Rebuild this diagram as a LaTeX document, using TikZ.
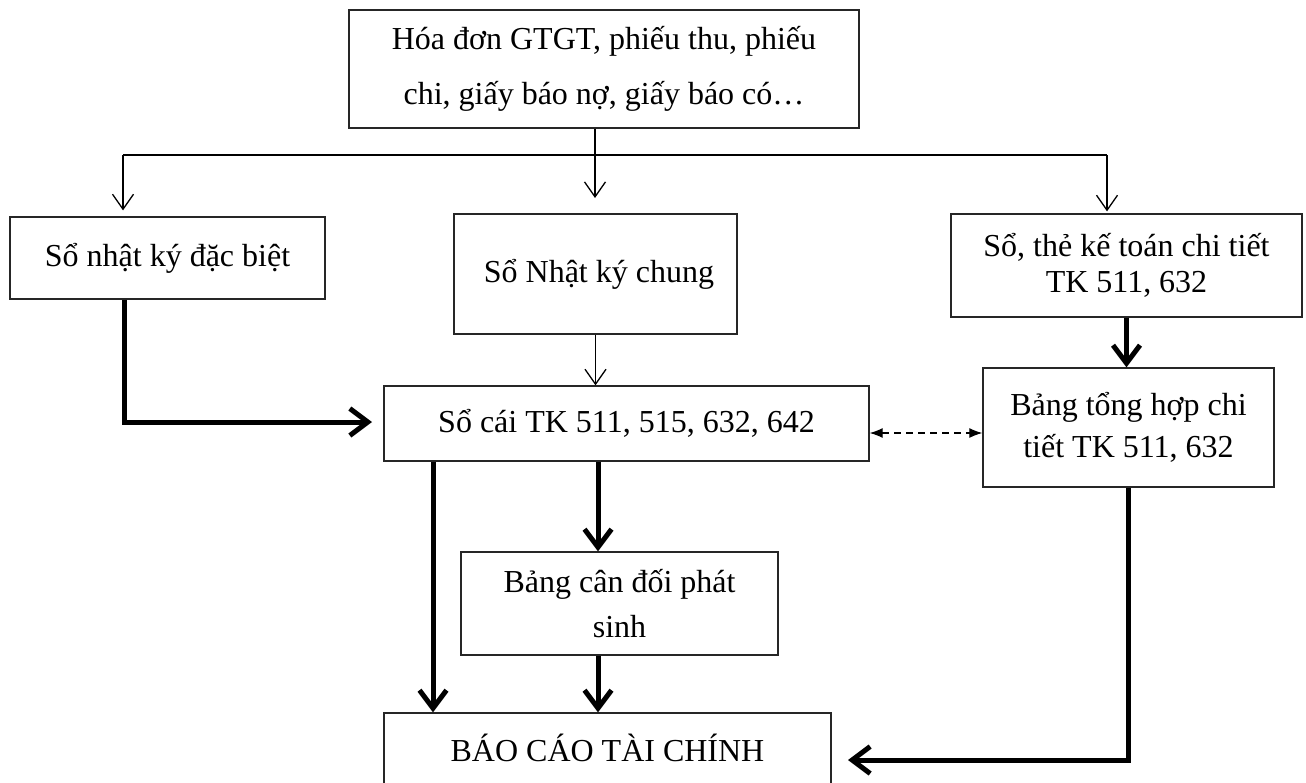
\documentclass[tikz,border=0pt]{standalone}
\usepackage{fontspec}
\setmainfont{Liberation Serif}
\usetikzlibrary{arrows.meta,calc}

\begin{document}
\begin{tikzpicture}[x=1pt,y=-1pt,
  box/.style={draw=black!85, line width=1.3pt, rectangle, inner sep=0pt,
              align=center, font=\fontsize{32}{36}\selectfont},
  thinarrow/.style={line width=1.3pt, -{Straight Barb[length=15pt,width=21pt]}},
  thinline/.style={line width=1.3pt},
  heavyarrow/.style={line width=5pt, -{Straight Barb[length=18pt,width=27pt]}},
  linkarrow/.style={line width=1.2pt, dash pattern=on 7pt off 5pt,
              {Latex[length=13pt,width=10pt]}-{Latex[length=13pt,width=10pt]}}]

\useasboundingbox (0,0) rectangle (1306,782);
\clip (0,0) rectangle (1306,782);

% source documents
\node[box, minimum width=510pt, minimum height=118pt,
      font=\fontsize{32}{55}\selectfont] (src) at (604,69)
  {Hóa đơn GTGT, phiếu thu, phiếu\\chi, giấy báo nợ, giấy báo có…};

% journals and detail ledgers
\node[box, minimum width=315pt, minimum height=82pt] (nkdb) at (167.5,258)
  {\raisebox{4pt}{Sổ nhật ký đặc biệt}};
\node[box, minimum width=283pt, minimum height=120pt] (nkc) at (595.5,274)
  {\hspace*{7pt}Sổ Nhật ký chung};
\node[box, minimum width=351pt, minimum height=103pt,
      font=\fontsize{32}{36}\selectfont] (sothe) at (1126.5,265.5)
  {Sổ, thẻ kế toán chi tiết\\TK 511, 632};

% ledger and summaries
\node[box, minimum width=485pt, minimum height=75pt] (socai) at (626.5,423.5)
  {\raisebox{4pt}{Sổ cái TK 511, 515, 632, 642}};
\node[box, minimum width=291pt, minimum height=119pt,
      font=\fontsize{32}{42}\selectfont] (bth) at (1128.5,427.5)
  {Bảng tổng hợp chi\\tiết TK 511, 632};
\node[box, minimum width=317pt, minimum height=103pt,
      font=\fontsize{32}{45}\selectfont] (bcd) at (619.5,603.5)
  {Bảng cân đối phát\\sinh};

% financial statements
\node[box, minimum width=447pt, minimum height=76pt] (bctc) at (607.5,751)
  {\raisebox{6pt}{BÁO CÁO TÀI CHÍNH}};

% distribution from the source documents
\coordinate (split) at (595,155);
\coordinate (bl) at (123,155);
\coordinate (br) at (1107,155);
\draw[thinline] (src.south -| split) -- (split);
\draw[thinline] (bl) -- (br);
\draw[thinarrow] (bl) -- ($(bl |- nkdb.north)+(0,-6)$);
\draw[thinarrow] (split) -- ++(0,43);
\draw[thinarrow] (br) -- ($(br |- sothe.north)+(0,-2)$);

% general journal to ledger
\draw[thinarrow] (nkc.south) -- (nkc.south |- socai.north);

% special journal to ledger
\coordinate (nk) at ($(nkdb.south west)+(115,0)$);
\coordinate (nkend) at (372,422);
\draw[heavyarrow] (nk) |- (nkend);

% detail ledgers to detail summary
\draw[heavyarrow] (sothe.south) -- (sothe.south |- bth.north);

% reconciliation between ledger and detail summary
\coordinate (dl) at (0,433);
\draw[linkarrow] (socai.east |- dl) -- (bth.west |- dl);

% towards the financial statements
\coordinate (cl) at (433,0);
\coordinate (cm) at (598,0);
\draw[heavyarrow] (socai.south -| cl) -- (bctc.north -| cl);
\draw[heavyarrow] (socai.south -| cm) -- (bcd.north -| cm);
\draw[heavyarrow] (bcd.south -| cm) -- (bctc.north -| cm);
\coordinate (rb) at (848,760);
\draw[heavyarrow] (bth.south) |- (rb);

\end{tikzpicture}
\end{document}
